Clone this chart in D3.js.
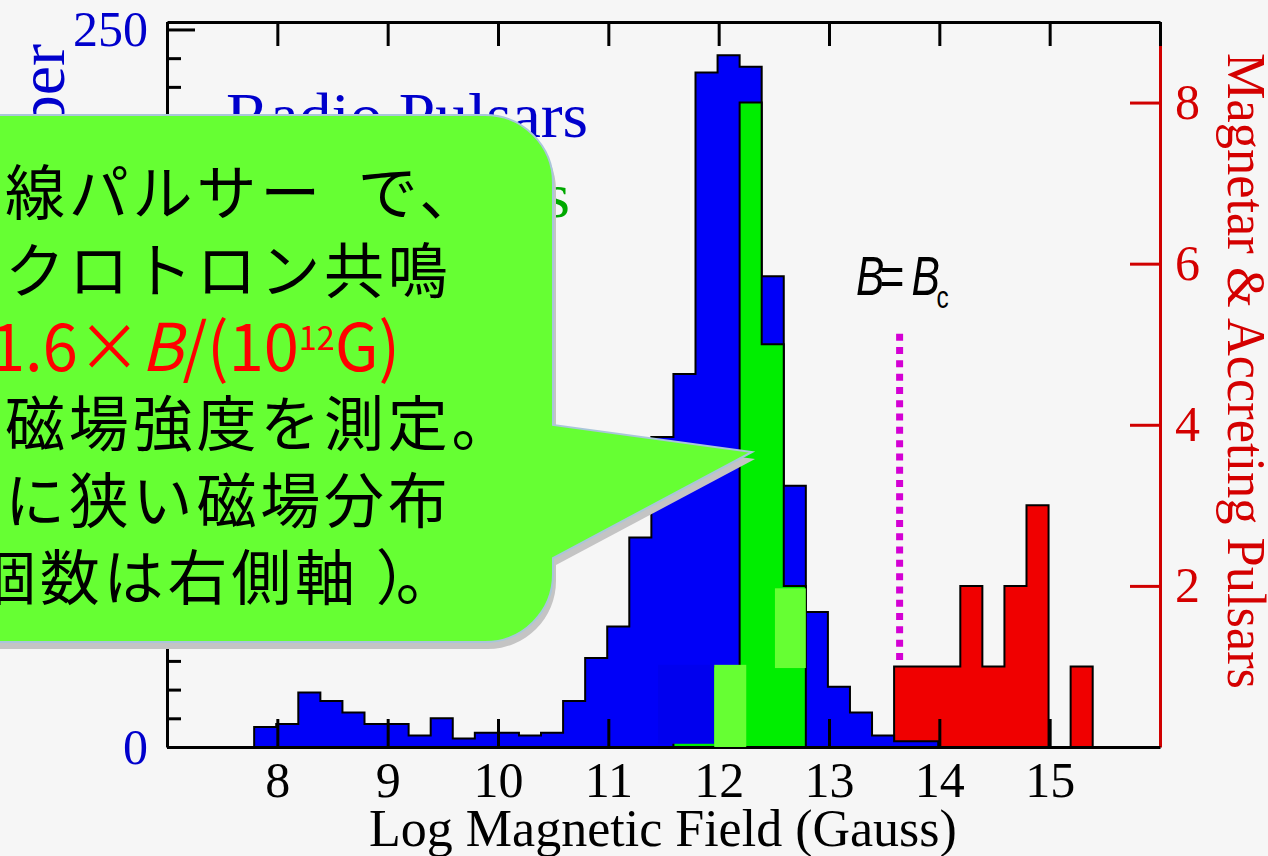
<!DOCTYPE html>
<html>
<head>
<meta charset="utf-8">
<script src="https://cdn.jsdelivr.net/npm/d3@7"></script>
<style>
  html, body { margin: 0; padding: 0; background: #f6f6f6; }
  svg { display: block; }
</style>
</head>
<body>
<svg id="grafico" width="1268" height="856"></svg>
<script>
// ---- datos del histograma (log B en Gauss) ----
const binWidth = 0.2;
// pulsares de radio (eje izquierdo)
const blueBins = [7.79, 7.99, 8.19, 8.39, 8.59, 8.79, 8.99, 9.19, 9.39, 9.59, 9.79, 9.99, 10.19, 10.39, 10.59, 10.79,
                  10.99, 11.19, 11.39, 11.59, 11.79, 11.99, 12.19, 12.39, 12.59, 12.79, 12.99, 13.19, 13.39, 13.59, 13.79];
const blueCounts = [7, 8, 19, 16, 12, 8, 8, 4, 10, 3, 5, 5, 4, 5, 16, 31,
                    42, 73, 108, 130, 235, 241, 237, 164, 91, 47, 21, 12, 4, 2, 2];
// pulsares de acrecion (eje derecho)
const greenBins = [11.59, 11.79, 11.99, 12.19, 12.39, 12.59];
const greenCounts = [1, 1, 1, 8, 5, 2];
// magnetares (eje derecho)
const redBins = [13.59, 13.79, 13.99, 14.19, 14.39, 14.59, 14.79, 14.99, 15.19];
const redCounts = [1, 1, 1, 2, 1, 2, 3, 0, 1];

const xTicks = [8, 9, 10, 11, 12, 13, 14, 15];
const topTicks = [7, 8, 9, 10, 11, 12, 13, 14, 15, 16];
const leftMajor = [0, 50, 100, 150, 200, 250];
const rightTicks = [2, 4, 6, 8];

// B = Bc (linea punteada), en unidades del eje derecho
const bCritical = 13.64;
const bCriticalSpan = [1.07, 5.13];

// parches pegados encima de las barras en la diapositiva original (eje derecho)
const patchKind = ["blue", "light", "light"];
const patchX = [[11.45, 11.96], [11.96, 12.25], [12.51, 12.79]];
const patchY = [[0.04, 1.02], [0, 1.02], [0.98, 1.97]];

// textos del globo
const noteLines = ["線パルサー\u2002で、", "クロトロン共鳴", "磁場強度を測定。", "に狭い磁場分布"];

// ---- colores ----
const azul = "#0000f8", verde = "#00ee00", rojo = "#f00000", claro = "#66ff33";
const serif = "'Liberation Serif', 'Times New Roman', serif";
const japo = "'Noto Sans CJK JP', sans-serif";

const svg = d3.select("#grafico");
const plot = { left: 167, right: 1160, top: 22, bottom: 747 };

const x = d3.scaleLinear().domain([7, 16]).range([plot.left, plot.right]);
const yL = d3.scaleLinear().domain([0, 252.6]).range([plot.bottom, plot.top]);
const yR = d3.scaleLinear().domain([0, 9]).range([plot.bottom, plot.top]);

svg.append("rect").attr("width", 1268).attr("height", 856).attr("fill", "#f6f6f6");

// puntos de escalera para un histograma
function stepPoints(bins, counts) {
  const pts = [[bins[0], 0]];
  bins.forEach((b, i) => {
    pts.push([b, counts[i]]);
    pts.push([b + binWidth, counts[i]]);
  });
  pts.push([bins[bins.length - 1] + binWidth, 0]);
  return pts;
}

function histograma(bins, counts, yScale, fill) {
  const pts = stepPoints(bins, counts);
  svg.append("path").datum(pts)
    .attr("d", d3.area().x(d => x(d[0])).y0(yScale(0)).y1(d => yScale(d[1])))
    .attr("fill", fill);
  svg.append("path").datum(pts)
    .attr("d", d3.line().x(d => x(d[0])).y(d => yScale(d[1])))
    .attr("fill", "none")
    .attr("stroke", "#000")
    .attr("stroke-width", 2);
}

// el orden importa: rojo abajo, luego azul, luego verde
histograma(redBins, redCounts, yR, rojo);
histograma(blueBins, blueCounts, yL, azul);
histograma(greenBins, greenCounts, yR, verde);

// linea punteada B = Bc
svg.append("line")
  .attr("x1", x(bCritical)).attr("x2", x(bCritical))
  .attr("y1", yR(bCriticalSpan[1])).attr("y2", yR(bCriticalSpan[0]))
  .attr("stroke", "#d400d4")
  .attr("stroke-width", 7)
  .attr("stroke-dasharray", "7 6.3");

// etiqueta B=Bc (fuente estrecha cursiva)
const bc = svg.append("g")
  .attr("transform", "translate(856,295) scale(0.76,1)")
  .attr("font-family", "'Liberation Sans', Arial, sans-serif")
  .attr("fill", "#000");
bc.append("text").attr("x", 0).attr("font-size", 56).attr("font-style", "italic").text("B");
bc.append("text").attr("x", 31).attr("font-size", 56).text("=");
bc.append("text").attr("x", 73).attr("font-size", 56).attr("font-style", "italic").text("B");
bc.append("text").attr("x", 106).attr("y", 13).attr("font-size", 32).text("c");

// ---- ejes ----
function estiloEje(g, color, textColor) {
  g.attr("font-family", serif).attr("font-size", 50);
  g.select(".domain").attr("stroke", color).attr("stroke-width", 3);
  g.selectAll(".tick line").attr("stroke", color).attr("stroke-width", 3);
  g.selectAll(".tick text").attr("fill", textColor);
}

// eje derecho (rojo)
const ejeDer = svg.append("g")
  .attr("transform", `translate(${plot.right},0)`)
  .call(d3.axisRight(yR).tickValues(rightTicks).tickSize(-30).tickSizeOuter(0).tickPadding(15).tickFormat(d3.format("d")));
estiloEje(ejeDer, "#d00000", "#d40000");

// eje superior, sin etiquetas
const ejeSup = svg.append("g")
  .attr("transform", `translate(0,${plot.top})`)
  .call(d3.axisTop(x).tickValues(topTicks).tickSize(-24).tickSizeOuter(0).tickFormat(""));
estiloEje(ejeSup, "#000", "#000");

// eje inferior
const ejeInf = svg.append("g")
  .attr("transform", `translate(0,${plot.bottom})`)
  .call(d3.axisBottom(x).tickValues(xTicks).tickSize(-28).tickSizeOuter(0).tickPadding(14).tickFormat(d3.format("d")));
estiloEje(ejeInf, "#000", "#000");

// eje izquierdo: marcas mayores y menores
const ejeIzq = svg.append("g")
  .attr("transform", `translate(${plot.left},0)`)
  .call(d3.axisLeft(yL).tickValues(leftMajor).tickSize(-28).tickSizeOuter(0).tickPadding(19).tickFormat(d3.format("d")));
estiloEje(ejeIzq, "#000", "#0000cc");

const menores = d3.range(10, 250, 10).filter(d => d % 50 !== 0);
const ejeIzqMenor = svg.append("g")
  .attr("transform", `translate(${plot.left},0)`)
  .call(d3.axisLeft(yL).tickValues(menores).tickSize(-14).tickFormat(""));
ejeIzqMenor.select(".domain").remove();
ejeIzqMenor.selectAll(".tick line").attr("stroke", "#000").attr("stroke-width", 3);

// parches de color encima de todo lo anterior
svg.selectAll(".parche").data(patchKind).join("rect")
  .attr("class", "parche")
  .attr("x", (d, i) => x(patchX[i][0]))
  .attr("width", (d, i) => x(patchX[i][1]) - x(patchX[i][0]))
  .attr("y", (d, i) => yR(patchY[i][1]))
  .attr("height", (d, i) => yR(patchY[i][0]) - yR(patchY[i][1]))
  .attr("fill", d => d === "blue" ? "#0000ee" : claro);

// ---- textos del grafico ----
svg.append("text")
  .attr("x", 226).attr("y", 137)
  .attr("font-family", serif).attr("font-size", 64)
  .attr("fill", "#0000cc")
  .attr("textLength", 362).attr("lengthAdjust", "spacingAndGlyphs")
  .text("Radio Pulsars");

svg.append("text")
  .attr("x", 570).attr("y", 217)
  .attr("text-anchor", "end")
  .attr("font-family", serif).attr("font-size", 64)
  .attr("fill", "#00a800")
  .text("X-ray Pulsars");

svg.append("text")
  .attr("transform", "translate(64,44) rotate(-90)")
  .attr("text-anchor", "end")
  .attr("font-family", serif).attr("font-size", 66)
  .attr("fill", "#0000cc")
  .text("Number");

svg.append("text")
  .attr("x", 663).attr("y", 846)
  .attr("text-anchor", "middle")
  .attr("font-family", serif).attr("font-size", 52)
  .attr("fill", "#000")
  .text("Log Magnetic Field (Gauss)");

svg.append("text")
  .attr("transform", "translate(1228,371) rotate(90)")
  .attr("text-anchor", "middle")
  .attr("font-family", serif).attr("font-size", 55)
  .attr("fill", "#d40000")
  .attr("textLength", 636).attr("lengthAdjust", "spacingAndGlyphs")
  .text("Magnetar & Accreting Pulsars");

// ---- globo de comentario ----
function globo(dx, dy) {
  const p = d3.path();
  const l = -20 + dx, t = 115 + dy, r = 553 + dx, b = 642 + dy, rad = 68;
  p.moveTo(l, t);
  p.lineTo(r - rad, t);
  p.arcTo(r, t, r, t + rad, rad);
  p.lineTo(r, 425 + dy);
  p.lineTo(752 + dx, 452 + dy);
  p.lineTo(r, 558 + dy);
  p.lineTo(r, b - rad);
  p.arcTo(r, b, r - rad, b, rad);
  p.lineTo(l, b);
  p.closePath();
  return p.toString();
}
svg.append("path").attr("d", globo(3, 7)).attr("fill", "#c4c4c4");
svg.append("path").attr("d", globo(0, 0))
  .attr("fill", claro)
  .attr("stroke", "#a9c6da")
  .attr("stroke-width", 2);

const nota = svg.append("g")
  .attr("font-family", japo)
  .attr("font-size", 60)
  .attr("letter-spacing", 3.8)
  .attr("fill", "#000");

nota.append("text").attr("x", 5).attr("y", 215).text(noteLines[0]);
nota.append("text").attr("x", 5).attr("y", 293).text(noteLines[1]);
nota.append("text").attr("x", 5).attr("y", 446).text(noteLines[2]);
nota.append("text").attr("x", 5).attr("y", 523).text(noteLines[3]);
const ult = nota.append("text").attr("x", -24).attr("y", 600);
ult.append("tspan").text("個数は右側軸");
ult.append("tspan").attr("dx", 17).text("）");
ult.append("tspan").attr("dx", -14).text("。");

// linea roja con la formula, ajustada en ancho
const formula = svg.append("g");
const ft = formula.append("text")
  .attr("font-family", japo)
  .attr("font-size", 66)
  .attr("fill", "#ff0000");
ft.append("tspan").text("1.6×");
ft.append("tspan").attr("font-style", "italic").text("B");
ft.append("tspan").text("/(10");
ft.append("tspan").attr("font-size", 34).attr("dy", -21).text("12");
ft.append("tspan").attr("dy", 21).text("G)");
const anchoF = ft.node().getBBox().width;
formula.attr("transform", `translate(-10,371) scale(${410 / anchoF},1)`);
</script>
</body>
</html>
